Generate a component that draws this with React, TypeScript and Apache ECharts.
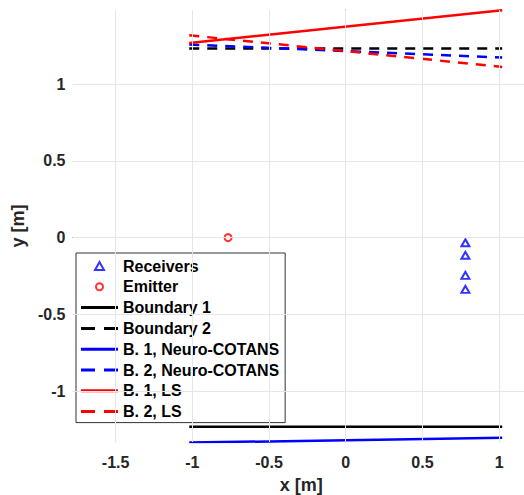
import React, { useEffect, useRef } from "react";
import * as echarts from "echarts";

const xTicks = [-1.5, -1, -0.5, 0, 0.5, 1];
const yTicks = [-1, -0.5, 0, 0.5, 1];

const receiversX = [0.78, 0.78, 0.78, 0.78];
const receiversY = [-0.033, -0.115, -0.246, -0.337];
const emitterX = [-0.767];
const emitterY = [0];

const lineX = [-1.02, 1.02];
const boundary1Y = [-1.233, -1.233];
const boundary2Y = [1.233, 1.233];
const nc1Y = [-1.336, -1.305];
const nc2Y = [1.259, 1.174];
const ls1Y = [1.269, 1.482];
const ls2Y = [1.319, 1.113];

const names = [
  "Receivers",
  "Emitter",
  "Boundary 1",
  "Boundary 2",
  "B. 1, Neuro-COTANS",
  "B. 2, Neuro-COTANS",
  "B. 1, LS",
  "B. 2, LS",
];

const FONT = "'Liberation Sans', Arial, Helvetica, sans-serif";

const ICON_SOLID = "path://M0,0H37V3H0Z";
const ICON_DASHED = "path://M0,0H14V3H0Z M23,0H37V3H23Z";
const ICON_TRI = "path://M0,4 M37,4 M14,8 L18.5,0 L23,8 Z";
const ICON_CIRC = "path://M0,4 M37,4 M15,4 A3.5,3.5 0 1 1 22,4 A3.5,3.5 0 1 1 15,4 Z";

const pairs = (xs: number[], ys: number[]) => xs.map((x, i) => [x, ys[i]]);

function lineSeries(name: string, ys: number[], color: string, dashed: boolean) {
  return {
    name,
    type: "line",
    data: pairs(lineX, ys),
    symbol: "none",
    lineStyle: { color, width: 2.5, type: dashed ? [10, 8] : "solid" },
    itemStyle: { color },
    z: 3,
  };
}

export default function App() {
  const ref = useRef<HTMLDivElement>(null);
  useEffect(() => {
    const chart = echarts.init(ref.current!, null, { renderer: "svg" });
    const axisCommon = {
      type: "value",
      nameLocation: "middle",
      nameTextStyle: { fontFamily: FONT, fontWeight: "bold", fontSize: 18, color: "#262626" },
      axisLine: { show: true, lineStyle: { color: "#8a8a8a", width: 1 } },
      axisTick: { show: true, inside: true, length: 4, lineStyle: { color: "#8a8a8a" } },
      axisLabel: { fontFamily: FONT, fontWeight: "bold", fontSize: 16, color: "#262626" },
      splitLine: { show: false },
    };
    const legendData = names.map((n, i) => {
      if (i === 0) return { name: n, icon: ICON_TRI, itemStyle: { borderWidth: 2 } };
      if (i === 1) return { name: n, icon: ICON_CIRC, itemStyle: { borderWidth: 2 } };
      return { name: n, icon: i % 2 === 0 ? ICON_SOLID : ICON_DASHED, itemStyle: { borderWidth: 0 } };
    });
    chart.setOption({
      animation: false,
      grid: {
        left: 72.5,
        top: 10,
        width: 451.5,
        height: 432,
        containLabel: false,
        outerBoundsMode: "none",
      },
      xAxis: {
        ...axisCommon,
        min: -1.781,
        max: 1.162,
        name: "x [m]",
        nameGap: 34,
        nameTextStyle: { ...axisCommon.nameTextStyle, padding: [0, 0, 0, 6] },
        axisTick: { ...axisCommon.axisTick, customValues: xTicks },
        axisLabel: { ...axisCommon.axisLabel, customValues: xTicks, margin: 12 },
      },
      yAxis: {
        ...axisCommon,
        min: -1.332,
        max: 1.484,
        name: "y [m]",
        nameGap: 40,
        axisTick: { ...axisCommon.axisTick, customValues: yTicks },
        axisLabel: { ...axisCommon.axisLabel, customValues: yTicks, margin: 7 },
      },
      legend: {
        orient: "vertical",
        left: 76,
        top: 253,
        data: legendData,
        itemWidth: 37,
        itemHeight: 8,
        itemGap: 4.8,
        symbolKeepAspect: true,
        padding: [5, 6, 3, 4],
        backgroundColor: "#ffffff",
        borderColor: "#333333",
        borderWidth: 1,
        borderRadius: 0,
        textStyle: { fontFamily: FONT, fontWeight: "bold", fontSize: 16, color: "#000" },
        selectedMode: false,
      },
      series: [
        {
          name: "grid",
          type: "line",
          data: [],
          z: 0,
          silent: true,
          markLine: {
            silent: true,
            symbol: ["none", "none"],
            label: { show: false },
            lineStyle: { color: "#e6e6e6", width: 1, type: "solid" },
            data: [
              ...xTicks.map((v) => ({ xAxis: v })),
              ...yTicks.map((v) => ({ yAxis: v })),
            ],
          },
        },
        {
          name: "Receivers",
          type: "scatter",
          data: pairs(receiversX, receiversY),
          symbol: "triangle",
          symbolSize: [8, 7],
          itemStyle: { color: "#ffffff", borderColor: "#0000ff", borderWidth: 2 },
          z: 4,
        },
        {
          name: "Emitter",
          type: "scatter",
          data: pairs(emitterX, emitterY),
          symbol: "circle",
          symbolSize: 7,
          itemStyle: { color: "#ffffff", borderColor: "#ff0000", borderWidth: 2 },
          z: 4,
        },
        lineSeries("Boundary 1", boundary1Y, "#000000", false),
        lineSeries("Boundary 2", boundary2Y, "#000000", true),
        lineSeries("B. 1, Neuro-COTANS", nc1Y, "#0000ff", false),
        lineSeries("B. 2, Neuro-COTANS", nc2Y, "#0000ff", true),
        lineSeries("B. 1, LS", ls1Y, "#ff0000", false),
        lineSeries("B. 2, LS", ls2Y, "#ff0000", true),
      ],
    });
    return () => chart.dispose();
  }, []);
  return (
    <div
      ref={ref}
      style={{ position: "absolute", left: 0, top: 0, width: 524, height: 495, background: "#fff" }}
    />
  );
}
